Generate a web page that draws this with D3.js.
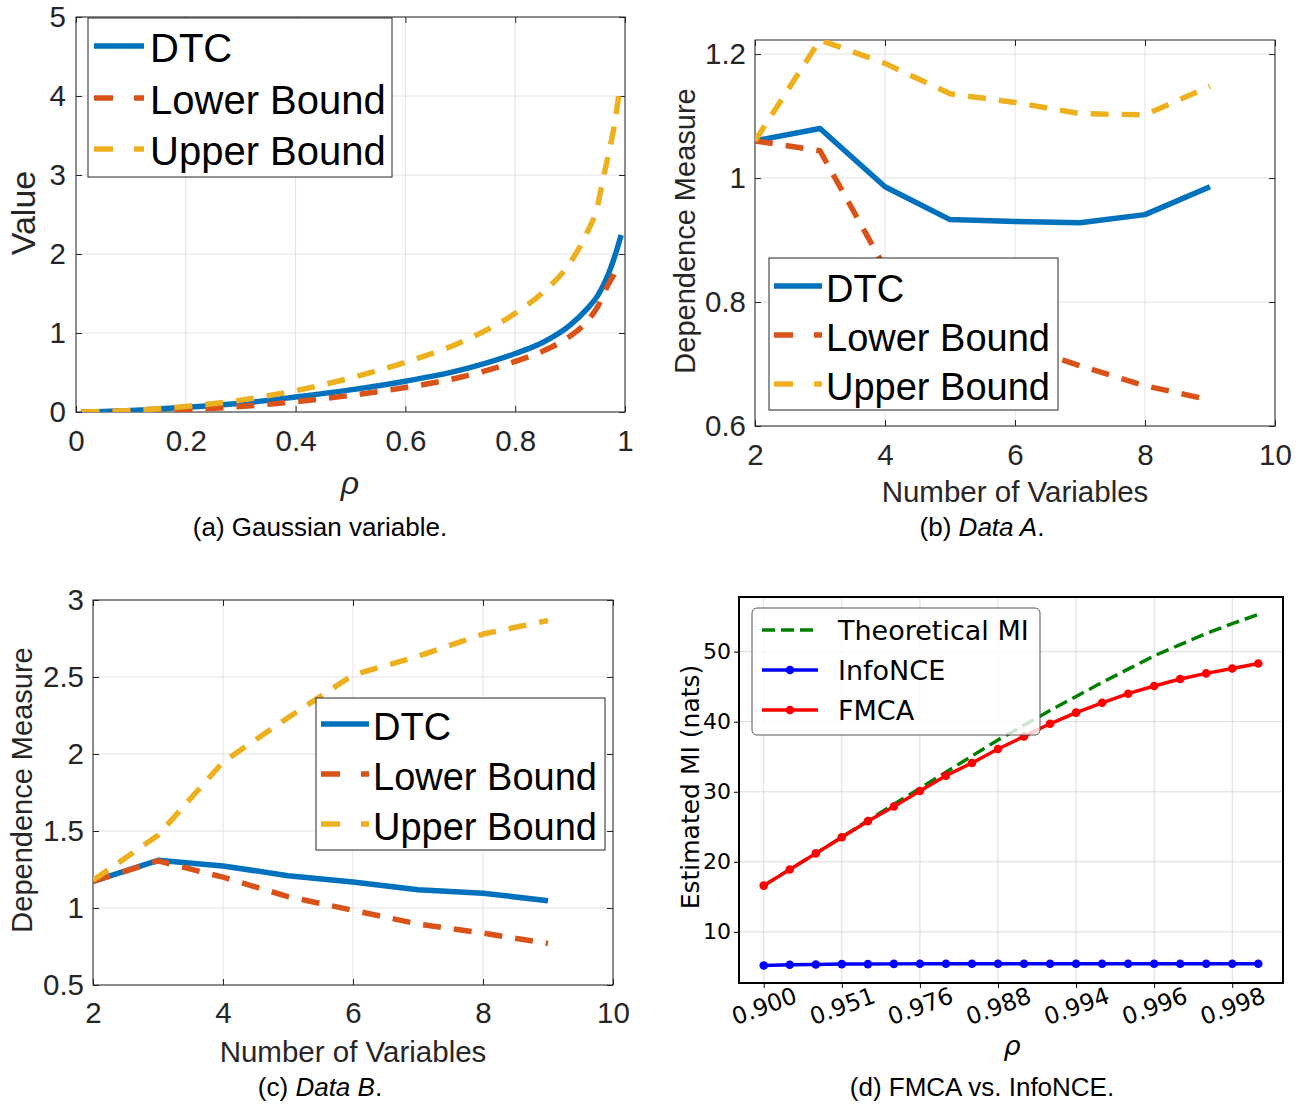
<!DOCTYPE html>
<html>
<head>
<meta charset="utf-8">
<script src="https://cdn.jsdelivr.net/npm/d3@7"></script>
<style>
  body { margin: 0; background: #fff; }
  svg { display: block; }
</style>
</head>
<body>
<svg id="fig" width="1309" height="1104"></svg>
<script>
// ---- (a) Gaussian variable ----
const rhoDtcA   = [0.01, 0.1, 0.2, 0.3, 0.4, 0.5, 0.6, 0.7, 0.8, 0.85, 0.9, 0.93, 0.95, 0.97, 0.985, 0.993];
const dtcA      = [0.00, 0.02, 0.06, 0.11, 0.19, 0.28, 0.39, 0.53, 0.74, 0.88, 1.10, 1.30, 1.47, 1.75, 2.05, 2.24];
const rhoLowerA = [0.01, 0.1, 0.2, 0.3, 0.4, 0.5, 0.6, 0.7, 0.8, 0.85, 0.9, 0.93, 0.95, 0.97, 0.98, 0.99];
const lowerA    = [0.00, 0.01, 0.03, 0.07, 0.13, 0.21, 0.31, 0.44, 0.64, 0.77, 0.96, 1.14, 1.33, 1.62, 1.74, 1.87];
const rhoUpperA = [0.01, 0.1, 0.2, 0.3, 0.4, 0.5, 0.6, 0.7, 0.8, 0.85, 0.9, 0.93, 0.95, 0.96, 0.97, 0.98, 0.99];
const upperA    = [0.00, 0.02, 0.07, 0.15, 0.27, 0.43, 0.63, 0.88, 1.25, 1.51, 1.89, 2.26, 2.61, 2.95, 3.26, 3.61, 4.07];
const xTicksA = [0, 0.2, 0.4, 0.6, 0.8, 1];
const yTicksA = [0, 1, 2, 3, 4, 5];

// ---- (b) Data A / (c) Data B ----
const nVars  = [2, 3, 4, 5, 6, 7, 8, 9];
const dtcB   = [1.060, 1.080, 0.986, 0.933, 0.930, 0.928, 0.941, 0.986];
const lowerB = [1.060, 1.044, 0.855, 0.767, 0.733, 0.697, 0.665, 0.642];
const upperB = [1.060, 1.2227, 1.185, 1.136, 1.122, 1.104, 1.102, 1.148];
const dtcC   = [1.173, 1.310, 1.273, 1.210, 1.169, 1.118, 1.096, 1.047];
const lowerC = [1.173, 1.306, 1.200, 1.074, 0.985, 0.896, 0.837, 0.770];
const upperC = [1.180, 1.472, 1.948, 2.236, 2.513, 2.635, 2.779, 2.867];
const xTicksBC = [2, 4, 6, 8, 10];
const yTicksB = [0.6, 0.8, 1, 1.2];
const yTicksC = [0.5, 1, 1.5, 2, 2.5, 3];

// ---- (d) FMCA vs. InfoNCE ----
const rhoTickLabelsD = ["0.900", "0.951", "0.976", "0.988", "0.994", "0.996", "0.998"];
const theoMI  = [16.6, 18.9, 21.2, 23.5, 25.9, 28.2, 30.5, 32.8, 35.1, 37.4, 39.5, 41.6, 43.6, 45.6, 47.5, 49.4, 51.0, 52.6, 54.0, 55.3];
const infoNCE = [5.20, 5.30, 5.35, 5.40, 5.40, 5.43, 5.45, 5.45, 5.45, 5.45, 5.45, 5.45, 5.45, 5.45, 5.45, 5.45, 5.45, 5.45, 5.45, 5.45];
const fmca    = [16.6, 18.9, 21.2, 23.5, 25.8, 27.9, 30.1, 32.3, 34.1, 36.1, 37.9, 39.7, 41.3, 42.7, 44.0, 45.1, 46.1, 46.9, 47.6, 48.3];
const yTicksD = [10, 20, 30, 40, 50];

const svg = d3.select("#fig");
const SANS = "'Liberation Sans', Arial, Helvetica, sans-serif";
const DEJA = "'DejaVu Sans', sans-serif";
const INK = "#262626";
const BLUE = "#0072BD", ORANGE = "#D95319", YELLOW = "#EDB120";

// MATLAB style axes (box on, grid on, ticks inside)
function matlabPanel(p) {
  const x = d3.scaleLinear().domain(p.xDomain).range([p.left, p.right]);
  const y = d3.scaleLinear().domain(p.yDomain).range([p.bottom, p.top]);
  const g = svg.append("g");

  g.append("clipPath").attr("id", "clip-" + p.id)
    .append("rect").attr("x", p.left).attr("y", p.top)
    .attr("width", p.right - p.left).attr("height", p.bottom - p.top);

  // grid
  g.append("g").selectAll("line").data(p.xTicks).join("line")
    .attr("x1", d => x(d)).attr("x2", d => x(d)).attr("y1", p.top).attr("y2", p.bottom)
    .attr("stroke", "#e2e2e2").attr("stroke-width", 1);
  g.append("g").selectAll("line").data(p.yTicks).join("line")
    .attr("y1", d => y(d)).attr("y2", d => y(d)).attr("x1", p.left).attr("x2", p.right)
    .attr("stroke", "#e2e2e2").attr("stroke-width", 1);

  const style = sel => {
    sel.select(".domain").remove();
    sel.selectAll(".tick line").attr("stroke", INK);
    sel.selectAll("text").attr("fill", INK).style("font-family", SANS).style("font-size", p.tickFont + "px");
  };
  g.append("g").attr("transform", `translate(0,${p.bottom})`)
    .call(d3.axisBottom(x).tickValues(p.xTicks).tickFormat(d3.format(p.xFmt)).tickSizeInner(-6).tickSizeOuter(0).tickPadding(p.xPad))
    .call(style);
  g.append("g").attr("transform", `translate(0,${p.top})`)
    .call(d3.axisTop(x).tickValues(p.xTicks).tickFormat("").tickSizeInner(-6).tickSizeOuter(0))
    .call(style);
  g.append("g").attr("transform", `translate(${p.left},0)`)
    .call(d3.axisLeft(y).tickValues(p.yTicks).tickFormat(d3.format(p.yFmt)).tickSizeInner(-6).tickSizeOuter(0).tickPadding(p.yPad))
    .call(style);
  g.append("g").attr("transform", `translate(${p.right},0)`)
    .call(d3.axisRight(y).tickValues(p.yTicks).tickFormat("").tickSizeInner(-6).tickSizeOuter(0))
    .call(style);

  g.append("rect").attr("x", p.left).attr("y", p.top)
    .attr("width", p.right - p.left).attr("height", p.bottom - p.top)
    .attr("fill", "none").attr("stroke", INK).attr("stroke-width", 1);

  // data lines
  const lines = g.append("g").attr("clip-path", `url(#clip-${p.id})`);
  p.series.forEach(s => {
    const line = d3.line().x(d => x(d[0])).y(d => y(d[1])).curve(s.curve || d3.curveLinear);
    lines.append("path").datum(d3.zip(s.xs, s.ys)).attr("d", line)
      .attr("fill", "none").attr("stroke", s.color).attr("stroke-width", 5.5)
      .attr("stroke-linejoin", "round")
      .attr("stroke-dasharray", s.dash ? "18,13" : null);
  });

  // labels
  g.append("text").attr("transform", `translate(${p.yLabel.x},${p.yLabel.y}) rotate(-90)`)
    .attr("text-anchor", "middle").attr("fill", INK)
    .style("font-family", SANS).style("font-size", p.yLabel.size + "px").text(p.yLabel.text);
  const xl = g.append("text").attr("x", p.xLabel.x).attr("y", p.xLabel.y)
    .attr("text-anchor", "middle").attr("fill", INK)
    .style("font-family", SANS).style("font-size", p.xLabel.size + "px").text(p.xLabel.text);
  if (p.xLabel.italic) xl.style("font-style", "italic");

  // legend
  const L = p.legend;
  const lg = g.append("g");
  lg.append("rect").attr("x", L.x).attr("y", L.y).attr("width", L.w).attr("height", L.h)
    .attr("fill", "#fff").attr("stroke", INK).attr("stroke-width", 1);
  p.series.forEach((s, i) => {
    const cy = L.rows[i];
    lg.append("line").attr("x1", L.x + L.s0).attr("x2", L.x + L.s1)
      .attr("y1", cy - 2).attr("y2", cy - 2)
      .attr("stroke", s.color).attr("stroke-width", 5.5)
      .attr("stroke-dasharray", s.dash ? "19,21" : null);
    lg.append("text").attr("x", L.x + L.tx).attr("y", cy + 0.36 * L.size)
      .attr("fill", "#000").style("font-family", SANS).style("font-size", L.size + "px")
      .text(s.name);
  });
}

function caption(cx, y, prefix, rest, italic) {
  const t = svg.append("text").attr("x", cx).attr("y", y).attr("text-anchor", "middle")
    .attr("fill", "#000").style("font-family", SANS).style("font-size", "26px");
  t.append("tspan").text(prefix);
  t.append("tspan").style("font-style", italic ? "italic" : "normal").text(rest);
  if (italic) t.append("tspan").text(".");
}

// (a)
matlabPanel({
  id: "a", left: 76, right: 625, top: 17, bottom: 412,
  xDomain: [0, 1], yDomain: [0, 5], xTicks: xTicksA, yTicks: yTicksA,
  xFmt: "", yFmt: "d", tickFont: 29.5, xPad: 18, yPad: 10,
  series: [
    { name: "DTC", xs: rhoDtcA, ys: dtcA, color: BLUE, curve: d3.curveMonotoneX },
    { name: "Lower Bound", xs: rhoLowerA, ys: lowerA, color: ORANGE, dash: true, curve: d3.curveMonotoneX },
    { name: "Upper Bound", xs: rhoUpperA, ys: upperA, color: YELLOW, dash: true, curve: d3.curveMonotoneX }
  ],
  yLabel: { text: "Value", x: 35, y: 213, size: 34 },
  xLabel: { text: "ρ", x: 350, y: 494, size: 32, italic: true },
  legend: { x: 88, y: 18, w: 304, h: 159, rows: [48, 100, 151], s0: 6, s1: 56, tx: 62, size: 40 }
});
caption(320, 536, "(a) Gaussian variable.", "", false);

// (b)
matlabPanel({
  id: "b", left: 755, right: 1275, top: 40, bottom: 426,
  xDomain: [2, 10], yDomain: [0.6, 1.2227], xTicks: xTicksBC, yTicks: yTicksB,
  xFmt: "d", yFmt: "", tickFont: 29.5, xPad: 18, yPad: 9,
  series: [
    { name: "DTC", xs: nVars, ys: dtcB, color: BLUE },
    { name: "Lower Bound", xs: nVars, ys: lowerB, color: ORANGE, dash: true },
    { name: "Upper Bound", xs: nVars, ys: upperB, color: YELLOW, dash: true }
  ],
  yLabel: { text: "Dependence Measure", x: 695, y: 231, size: 29 },
  xLabel: { text: "Number of Variables", x: 1015, y: 502, size: 29.5 },
  legend: { x: 769, y: 258, w: 289, h: 152, rows: [288, 337, 386], s0: 5, s1: 53, tx: 57, size: 38 }
});
caption(982, 536, "(b) ", "Data A", true);

// (c)
matlabPanel({
  id: "c", left: 93, right: 613, top: 600, bottom: 985,
  xDomain: [2, 10], yDomain: [0.5, 3], xTicks: xTicksBC, yTicks: yTicksC,
  xFmt: "d", yFmt: "", tickFont: 29.5, xPad: 17, yPad: 9,
  series: [
    { name: "DTC", xs: nVars, ys: dtcC, color: BLUE },
    { name: "Lower Bound", xs: nVars, ys: lowerC, color: ORANGE, dash: true },
    { name: "Upper Bound", xs: nVars, ys: upperC, color: YELLOW, dash: true }
  ],
  yLabel: { text: "Dependence Measure", x: 32, y: 790, size: 29 },
  xLabel: { text: "Number of Variables", x: 353, y: 1062, size: 29.5 },
  legend: { x: 316, y: 698, w: 289, h: 152, rows: [726, 776, 826], s0: 5, s1: 53, tx: 57, size: 38 }
});
caption(320, 1096, "(c) ", "Data B", true);

// (d) matplotlib style
(function () {
  const left = 739, right = 1283, top = 597, bottom = 983;
  const idx = d3.range(fmca.length);
  const x = d3.scaleLinear().domain([-0.95, idx.length - 1 + 0.95]).range([left, right]);
  const y = d3.scaleLinear().domain([2.7, 57.8]).range([bottom, top]);
  const xTickIdx = rhoTickLabelsD.map((_, i) => i * 3);
  const g = svg.append("g");

  g.append("g").selectAll("line").data(xTickIdx).join("line")
    .attr("x1", d => x(d)).attr("x2", d => x(d)).attr("y1", top).attr("y2", bottom)
    .attr("stroke", "#dcdcdc").attr("stroke-width", 1);
  g.append("g").selectAll("line").data(yTicksD).join("line")
    .attr("y1", d => y(d)).attr("y2", d => y(d)).attr("x1", left).attr("x2", right)
    .attr("stroke", "#dcdcdc").attr("stroke-width", 1);

  const ax = g.append("g").attr("transform", `translate(0,${bottom})`)
    .call(d3.axisBottom(x).tickValues(xTickIdx).tickFormat((d, i) => rhoTickLabelsD[i]).tickSizeInner(5).tickSizeOuter(0));
  ax.select(".domain").remove();
  ax.selectAll(".tick line").attr("stroke", "#000");
  ax.selectAll("text").attr("y", null).attr("dy", "0.35em")
    .attr("transform", "translate(0,23) rotate(-20)")
    .attr("fill", "#000").style("font-family", DEJA).style("font-size", "23.5px");

  const ay = g.append("g").attr("transform", `translate(${left},0)`)
    .call(d3.axisLeft(y).tickValues(yTicksD).tickSizeInner(5).tickSizeOuter(0).tickPadding(3));
  ay.select(".domain").remove();
  ay.selectAll(".tick line").attr("stroke", "#000");
  ay.selectAll("text").attr("fill", "#000").style("font-family", DEJA).style("font-size", "22px");

  const line = d3.line().x((d, i) => x(i)).y(d => y(d));
  g.append("path").datum(theoMI).attr("d", line).attr("fill", "none")
    .attr("stroke", "#008000").attr("stroke-width", 3.5).attr("stroke-dasharray", "13,6");
  [[infoNCE, "#0000ff"], [fmca, "#ff0000"]].forEach(([vals, col]) => {
    g.append("path").datum(vals).attr("d", line).attr("fill", "none")
      .attr("stroke", col).attr("stroke-width", 3.5).attr("stroke-linejoin", "round");
    g.append("g").selectAll("circle").data(vals).join("circle")
      .attr("cx", (d, i) => x(i)).attr("cy", d => y(d)).attr("r", 4.3).attr("fill", col);
  });

  g.append("rect").attr("x", left).attr("y", top).attr("width", right - left).attr("height", bottom - top)
    .attr("fill", "none").attr("stroke", "#000").attr("stroke-width", 2);

  // legend
  const lg = g.append("g");
  lg.append("rect").attr("x", 752).attr("y", 608).attr("width", 288).attr("height", 127).attr("rx", 5)
    .attr("fill", "#fff").attr("fill-opacity", 0.8).attr("stroke", "#555").attr("stroke-width", 1);
  const items = [
    { name: "Theoretical MI", color: "#008000", dash: true },
    { name: "InfoNCE", color: "#0000ff" },
    { name: "FMCA", color: "#ff0000" }
  ];
  items.forEach((it, i) => {
    const cy = 630 + i * 40;
    lg.append("line").attr("x1", 762).attr("x2", 818).attr("y1", cy).attr("y2", cy)
      .attr("stroke", it.color).attr("stroke-width", 3.5)
      .attr("stroke-dasharray", it.dash ? "13,6" : null);
    if (!it.dash) lg.append("circle").attr("cx", 790).attr("cy", cy).attr("r", 4.3).attr("fill", it.color);
    lg.append("text").attr("x", 838).attr("y", cy + 10).attr("fill", "#000")
      .style("font-family", DEJA).style("font-size", "27px").text(it.name);
  });

  g.append("text").attr("transform", `translate(699,787) rotate(-90)`).attr("text-anchor", "middle")
    .attr("fill", "#000").style("font-family", DEJA).style("font-size", "25px").text("Estimated MI (nats)");
  g.append("text").attr("x", 1012).attr("y", 1055).attr("text-anchor", "middle")
    .attr("fill", "#000").style("font-family", DEJA).style("font-style", "italic").style("font-size", "27px").text("ρ");
})();
caption(982, 1096, "(d) FMCA vs. InfoNCE.", "", false);
</script>
</body>
</html>
